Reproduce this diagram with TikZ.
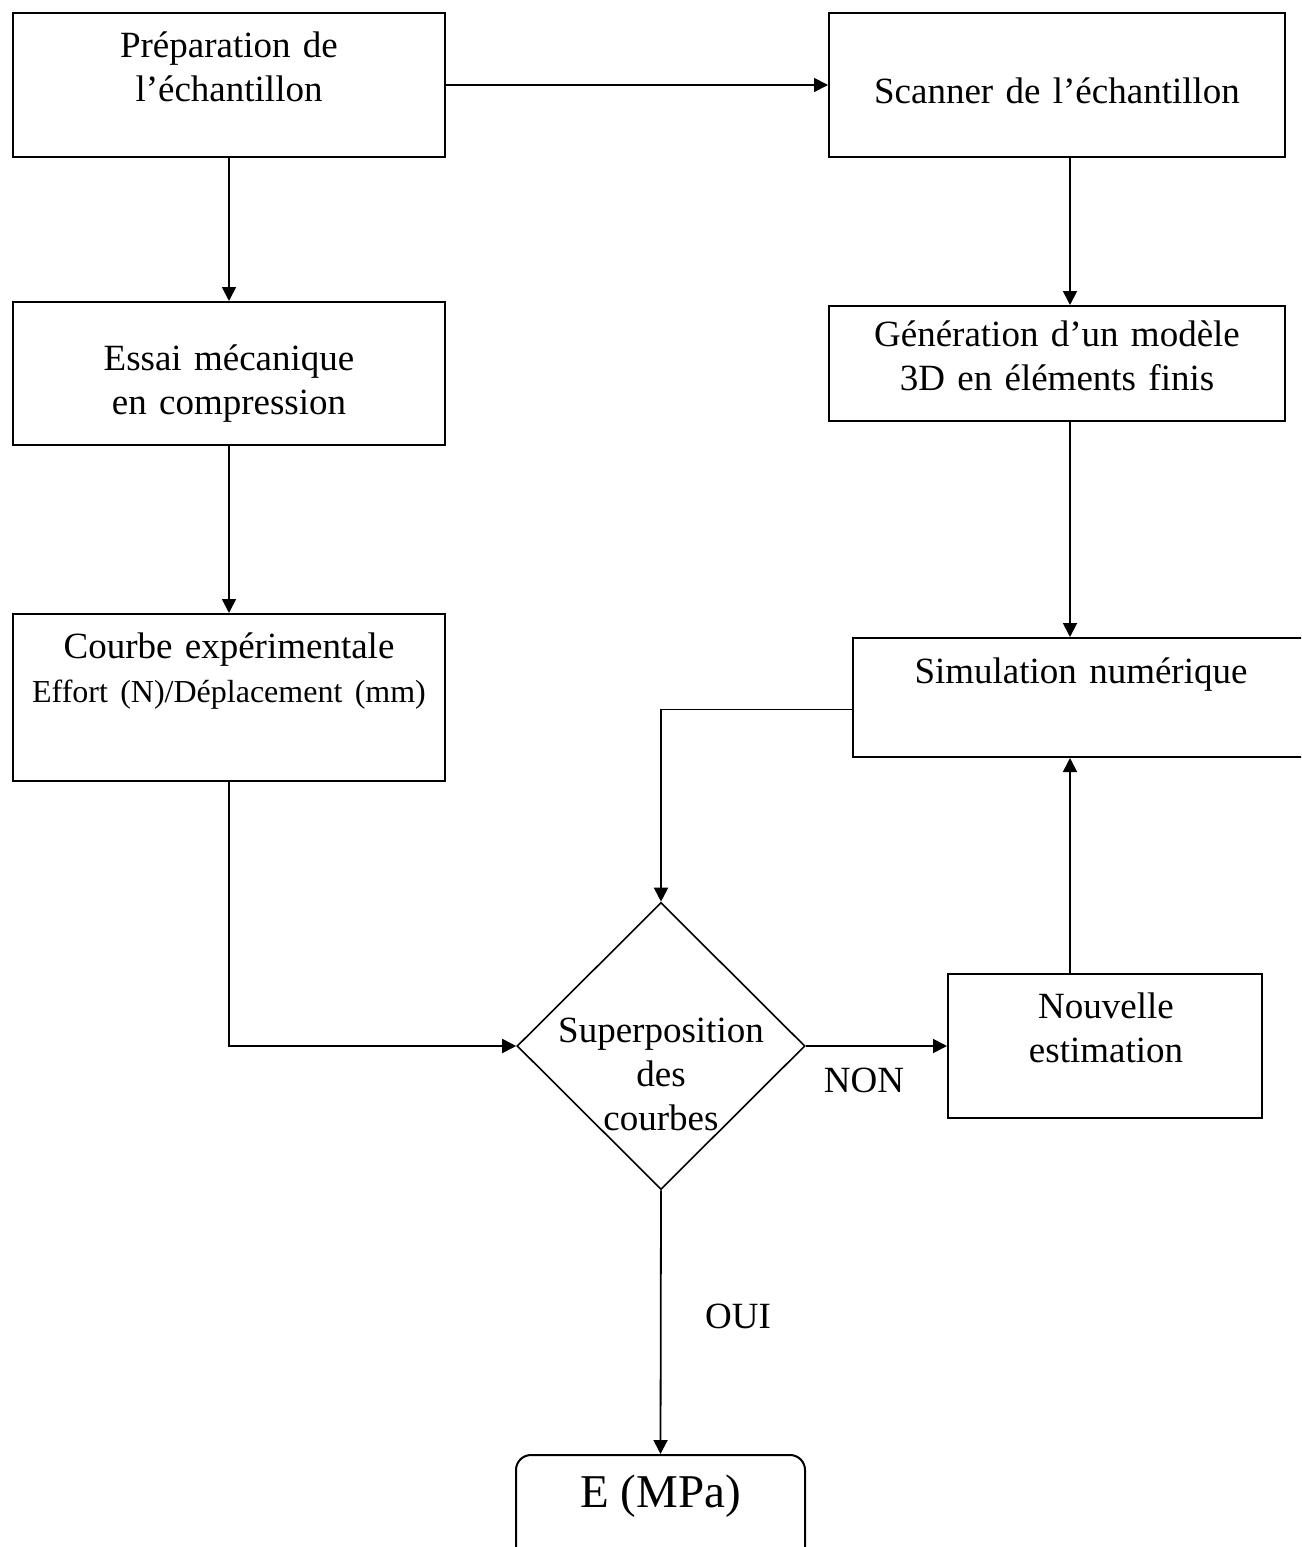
\documentclass[tikz,border=0pt]{standalone}
\usepackage{fontspec}
\setmainfont{Liberation Serif}
\usetikzlibrary{arrows.meta,shapes.geometric,calc}
\begin{document}
\begin{tikzpicture}[x=1pt,y=-1pt,
  box/.style={draw,line width=2pt,rectangle,inner sep=0pt},
  arr/.style={line width=1.8pt,-{Triangle[length=14pt,width=14pt]}},
  txt/.style={anchor=base,text width=460pt,align=center,inner sep=0pt,font=\fontsize{37}{44}\selectfont},
  lbl/.style={anchor=base,inner sep=0pt,font=\fontsize{37}{44}\selectfont}]
\useasboundingbox (0,0) rectangle (1301,1547);
\clip (0,0) rectangle (1301,1547);
\fill[white] (0,0) rectangle (1301,1547);
% boxes
\node[box,minimum width=432pt,minimum height=144pt] (prep) at (229,85) {};
\node[box,minimum width=456pt,minimum height=144pt] (scan) at (1057,85) {};
\node[box,minimum width=432pt,minimum height=143pt] (essai) at (229,373.5) {};
\node[box,minimum width=456pt,minimum height=115pt] (gen) at (1057,363.5) {};
\node[box,minimum width=432pt,minimum height=167pt] (courbe) at (229,697.5) {};
\node[box,minimum width=467pt,minimum height=119pt] (sim) at (1086.5,697.5) {};
\node[draw,diamond,line width=1.6pt,inner sep=0pt,minimum width=288pt,minimum height=287pt] (dia) at (661,1046) {};
\node[box,minimum width=314pt,minimum height=144pt] (nouv) at (1105,1046) {};
\node[box,rounded corners=15pt,minimum width=289pt,minimum height=120pt] (ebox) at (660.5,1515) {};
% texts
\node[txt] (tprep) at (229,57) {Préparation de\\l’échantillon};
\node[txt] (tscan) at (1057,103) {Scanner de l’échantillon};
\node[txt] (tessai) at (229,370) {Essai mécanique\\en compression};
\node[txt] (tgen) at (1057,346) {Génération d’un modèle\\3D en éléments finis};
\node[txt] (tcourbe) at (229,658) {Courbe expérimentale\\{\fontsize{32}{38}\selectfont Effort (N)/Déplacement (mm)}};
\node[txt] (tsim) at (1081,683) {Simulation numérique};
\node[txt] (tdia) at (661,1042) {Superposition\\des\\courbes};
\node[txt] (tnouv) at (1106,1018) {Nouvelle\\estimation};
\node[lbl] (non) at (864,1092) {NON};
\node[lbl] (oui) at (738,1328) {OUI};
\node[lbl,font=\fontsize{47}{54}\selectfont] (te) at (660.5,1507) {E (MPa)};
% connectors
\coordinate (cx) at (1070,0);
\draw[arr] (prep.east) -- (scan.west);
\draw[arr] (prep.south) -- (essai.north);
\draw[arr] (essai.south) -- (courbe.north);
\draw[arr] (scan.south -| cx) -- (gen.north -| cx);
\draw[arr] (gen.south -| cx) -- (sim.north -| cx);
\draw[arr] ([yshift=-12pt]sim.west) -| (dia.north);
\draw[arr] (courbe.south) |- (dia.west);
\draw[arr] (dia.east) -- (nouv.west);
\draw[arr] (nouv.north -| cx) -- (sim.south -| cx);
\draw[arr] (dia.south) -- (ebox.north);
\end{tikzpicture}
\end{document}
